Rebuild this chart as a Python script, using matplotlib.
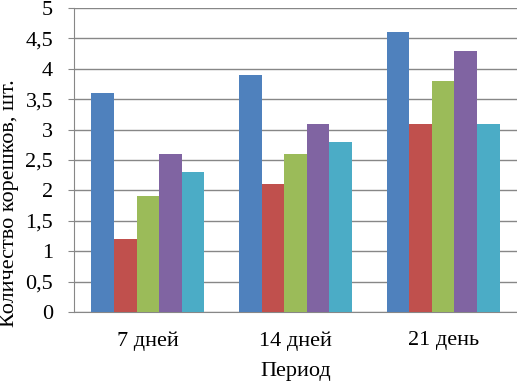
import matplotlib
matplotlib.use("Agg")
import matplotlib.pyplot as plt
import numpy as np
from matplotlib.ticker import FuncFormatter, MultipleLocator

categories = ["7 дней", "14 дней", "21 день"]
series_values = [
    [3.6, 3.9, 4.6],
    [1.2, 2.1, 3.1],
    [1.9, 2.6, 3.8],
    [2.6, 3.1, 4.3],
    [2.3, 2.8, 3.1],
]
colors = ["#4F81BD", "#C0504D", "#9BBB59", "#8064A2", "#4BACC6"]
y_label = "Количество корешков, шт."
x_label = "Период"

plt.rcParams['font.family'] = ['Liberation Serif', 'DejaVu Serif']

fig = plt.figure(figsize=(5.17, 3.84), dpi=100)
ax = fig.add_axes([0.1431, 0.1875, 0.8569, 0.7917])

n = len(series_values)
width = 0.153
x = np.arange(len(categories))
for i, (vals, c) in enumerate(zip(series_values, colors)):
    ax.bar(x + (i - (n - 1) / 2) * width, vals, width, color=c, zorder=3)

ax.set_xlim(-0.5, len(categories) - 0.5)
ax.set_ylim(0, 5)
ax.yaxis.set_major_locator(MultipleLocator(0.5))
ax.yaxis.set_major_formatter(FuncFormatter(lambda v, p: f"{v:g}".replace(".", ",")))
ax.grid(axis='y', color='#878787', linewidth=1.0, zorder=0)
ax.set_xticks(x)
ax.set_xticklabels(categories)

for s in ['top', 'right']:
    ax.spines[s].set_visible(False)
ax.spines['left'].set_color('#878787')
ax.spines['bottom'].set_color('#878787')
ax.tick_params(axis='y', length=4.5, color='#878787', labelsize=16, pad=10.5)
ax.tick_params(axis='x', length=0, labelsize=16, pad=14)

ax.set_ylabel(y_label, fontsize=16)
ax.yaxis.set_label_coords(-0.124, 0.357)
ax.set_xlabel(x_label, fontsize=16, labelpad=8)

fig.savefig("out.png", dpi=100)
